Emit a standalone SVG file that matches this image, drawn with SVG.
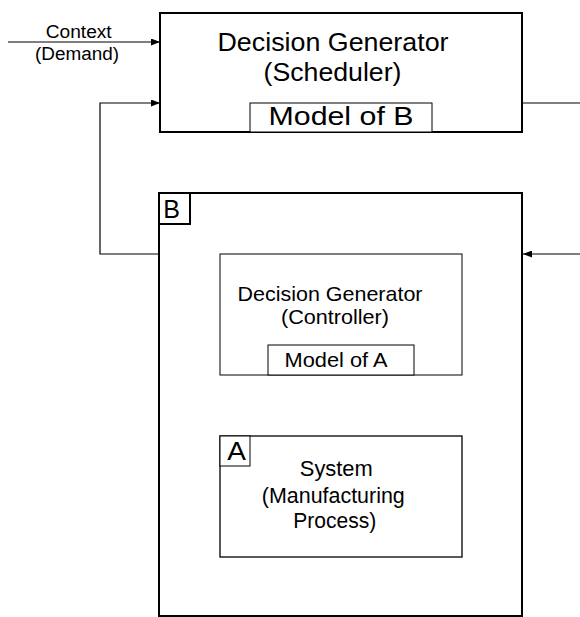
<svg xmlns="http://www.w3.org/2000/svg" width="580" height="617" viewBox="0 0 580 617">
<defs>
<marker id="arr" markerUnits="userSpaceOnUse" markerWidth="9" markerHeight="7" refX="9" refY="3.5" orient="auto">
<path d="M0,0 L9,3.5 L0,7 z" fill="#000"/>
</marker>
<style>
.thick{fill:#fff;stroke:#000;stroke-width:2}
.thin{fill:#fff;stroke:#000;stroke-width:1}
.mid{fill:#fff;stroke:#000;stroke-width:1.3}
.line{fill:none;stroke:#000;stroke-width:1.2}
text{font-family:"Liberation Sans",Arial,sans-serif;fill:#000;text-anchor:middle}
.big{font-size:26px}
.mb{font-size:25px}
.med{font-size:21px}
.sys{font-size:22px}
.sm{font-size:18px}
.lbl{font-size:25px;text-anchor:start}
</style>
</defs>
<g id="connectors">
<line class="line" x1="8" y1="42" x2="160" y2="42" marker-end="url(#arr)"/>
<path class="line" d="M159,254 H100 V103 H160" marker-end="url(#arr)"/>
<line class="line" x1="522" y1="103" x2="580" y2="103"/>
<line class="line" x1="580" y1="254" x2="523" y2="254" marker-end="url(#arr)"/>
<path class="line" d="M462,315 H492 V497 H462" marker-end="url(#arr)"/>
<path class="line" d="M220,497 H190 V315 H220" marker-end="url(#arr)"/>
<text class="sm" x="78.7" y="38" textLength="66" lengthAdjust="spacingAndGlyphs">Context</text>
<text class="sm" x="77" y="60" textLength="84" lengthAdjust="spacingAndGlyphs">(Demand)</text>
</g>
<g id="scheduler">
<rect class="thick" x="160" y="13" width="362" height="119"/>
<text class="big" x="333" y="51" textLength="231" lengthAdjust="spacingAndGlyphs">Decision Generator</text>
<text class="big" x="332.5" y="80.5" textLength="138" lengthAdjust="spacingAndGlyphs">(Scheduler)</text>
</g>
<g id="model-b">
<rect class="thin" x="250" y="103" width="182" height="29"/>
<text class="mb" x="341" y="124.5" textLength="145" lengthAdjust="spacingAndGlyphs">Model of B</text>
</g>
<g id="system-b">
<rect class="thick" x="159" y="193" width="363" height="423"/>
<rect class="thick" x="159" y="193" width="31" height="31"/>
<text class="lbl" x="163.3" y="217.7" textLength="16.7" lengthAdjust="spacingAndGlyphs">B</text>
</g>
<g id="controller">
<rect class="thin" x="220" y="254" width="242" height="121"/>
<text class="med" x="330" y="301" textLength="185" lengthAdjust="spacingAndGlyphs">Decision Generator</text>
<text class="med" x="335" y="324" textLength="108" lengthAdjust="spacingAndGlyphs">(Controller)</text>
</g>
<g id="model-a">
<rect class="thin" x="268" y="345" width="146" height="30"/>
<text class="med" x="336" y="366.5" textLength="103" lengthAdjust="spacingAndGlyphs">Model of A</text>
</g>
<g id="system-a">
<rect class="mid" x="220" y="436" width="242" height="121"/>
<rect class="thin" x="220" y="436" width="30" height="30"/>
<text class="lbl" x="227.3" y="460" textLength="18.7" lengthAdjust="spacingAndGlyphs">A</text>
<text class="sys" x="336.3" y="476" textLength="73" lengthAdjust="spacingAndGlyphs">System</text>
<text class="sys" x="333.3" y="502.5" textLength="143" lengthAdjust="spacingAndGlyphs">(Manufacturing</text>
<text class="sys" x="334.7" y="528" textLength="83" lengthAdjust="spacingAndGlyphs">Process)</text>
</g>
</svg>
